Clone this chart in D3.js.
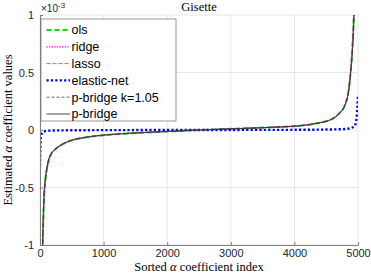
<!DOCTYPE html>
<html>
<head>
<meta charset="utf-8">
<script src="https://cdn.jsdelivr.net/npm/d3@7"></script>
<style>
body { margin: 0; background: #fff; }
svg { display: block; }
</style>
</head>
<body>
<div id="canvas"></div>
<script>
// ---------------- DATA ----------------
var title = "Gisette";
var xTicks = [0, 1000, 2000, 3000, 4000, 5000];
var yTicks = [-1, -0.5, 0, 0.5, 1];
var yTickLabels = ["-1", "-0.5", "0", "0.5", "1"];

// sorted coefficient index
var idx = [0, 10, 20, 30, 40, 50, 63, 80, 100, 130, 170, 220, 288, 380, 500, 700, 970, 1300, 1700, 2100, 2500,
  2900, 3300, 3700, 4088, 4350, 4500, 4607, 4700, 4795, 4850, 4885, 4910, 4937, 4960, 4980, 5000];

// values in units of 1e-3
var ols = [-6, -3.6, -2.5, -1.7, -1.12, -0.82, -0.6, -0.46, -0.37, -0.28, -0.215, -0.178, -0.147, -0.117, -0.09, -0.066, -0.047, -0.033, -0.021, -0.011, 0,
  0.008, 0.016, 0.025, 0.037, 0.058, 0.076, 0.1, 0.142, 0.22, 0.335, 0.51, 0.7, 1.04, 1.55, 2.6, 4];
var ridge = [-6.3, -3.8, -2.6, -1.8, -1.2, -0.88, -0.63, -0.48, -0.38, -0.29, -0.22, -0.18, -0.149, -0.118, -0.091, -0.067, -0.047, -0.033, -0.021, -0.011, 0,
  0.008, 0.016, 0.025, 0.037, 0.059, 0.077, 0.102, 0.145, 0.225, 0.345, 0.53, 0.73, 1.08, 1.6, 2.7, 4.2];
var lasso = [-5.8, -3.5, -2.4, -1.65, -1.08, -0.79, -0.58, -0.45, -0.36, -0.27, -0.212, -0.176, -0.145, -0.116, -0.089, -0.065, -0.046, -0.032, -0.02, -0.01, 0,
  0.008, 0.016, 0.025, 0.037, 0.058, 0.075, 0.1, 0.14, 0.217, 0.33, 0.5, 0.68, 1.0, 1.5, 2.5, 3.9];
var enet = [-0.31, -0.09, -0.045, -0.03, -0.022, -0.017, -0.013, -0.01, -0.008, -0.006, -0.005, -0.004, -0.003, -0.003, -0.002, -0.002, -0.001, -0.001, 0, 0, 0,
  0, 0.001, 0.001, 0.002, 0.003, 0.004, 0.005, 0.006, 0.009, 0.012, 0.016, 0.022, 0.03, 0.05, 0.12, 0.3];
var pbk = [-5.8, -3.5, -2.4, -1.65, -1.08, -0.79, -0.58, -0.45, -0.36, -0.27, -0.212, -0.176, -0.145, -0.116, -0.089, -0.065, -0.046, -0.032, -0.02, -0.01, 0,
  0.008, 0.016, 0.025, 0.037, 0.058, 0.075, 0.1, 0.14, 0.217, 0.33, 0.5, 0.68, 1.0, 1.5, 2.5, 3.9];
var pb = [-5.7, -3.4, -2.35, -1.62, -1.05, -0.77, -0.57, -0.44, -0.355, -0.268, -0.21, -0.175, -0.144, -0.115, -0.088, -0.065, -0.046, -0.032, -0.02, -0.01, 0,
  0.008, 0.016, 0.025, 0.037, 0.058, 0.075, 0.099, 0.139, 0.215, 0.327, 0.495, 0.67, 0.99, 1.48, 2.45, 3.8];

var seriesNames = ["ols", "ridge", "lasso", "elastic-net", "p-bridge k=1.05", "p-bridge"];
var seriesValues = [ols, ridge, lasso, enet, pbk, pb];

// ---------------- STYLE ----------------
var styles = [
  { color: "#00e000", width: 2, dash: "5,3" },
  { color: "#ff00ff", width: 1.3, dash: "1.3,1.3" },
  { color: "#ff3030", width: 0.8, dash: "4,2" },
  { color: "#0000ff", width: 2.4, dash: "2.2,2.2" },
  { color: "#555555", width: 0.9, dash: "3,2" },
  { color: "#333333", width: 0.9, dash: null }
];

var W = 371, H = 273;
var margin = { left: 40, right: 13, top: 15, bottom: 28 };
var width = W - margin.left - margin.right;
var height = H - margin.top - margin.bottom;

var svg = d3.select("#canvas").append("svg")
  .attr("width", W)
  .attr("height", H);

var g = svg.append("g")
  .attr("transform", `translate(${margin.left}, ${margin.top})`);

var xScale = d3.scaleLinear().domain([0, 5000]).range([0, width]);
var yScale = d3.scaleLinear().domain([-1, 1]).range([height, 0]);

// grid
g.append("g")
  .selectAll("line.gx")
  .data(xTicks)
  .enter().append("line")
  .attr("x1", d => xScale(d)).attr("x2", d => xScale(d))
  .attr("y1", 0).attr("y2", height)
  .attr("stroke", "#e6e6e6").attr("stroke-width", 1);
g.append("g")
  .selectAll("line.gy")
  .data(yTicks)
  .enter().append("line")
  .attr("x1", 0).attr("x2", width)
  .attr("y1", d => yScale(d)).attr("y2", d => yScale(d))
  .attr("stroke", "#e6e6e6").attr("stroke-width", 1);

// clip
svg.append("defs").append("clipPath").attr("id", "clip")
  .append("rect").attr("x", 0).attr("y", 0).attr("width", width).attr("height", height);

// lines
var line = d3.line()
  .x((d, i) => xScale(idx[i]))
  .y(d => yScale(d))
  .curve(d3.curveMonotoneX);

var lines = g.append("g").attr("clip-path", "url(#clip)");
seriesValues.forEach(function (vals, k) {
  lines.append("path")
    .attr("d", line(vals))
    .attr("fill", "none")
    .attr("stroke", styles[k].color)
    .attr("stroke-width", styles[k].width)
    .attr("stroke-dasharray", styles[k].dash);
});

// axes
var axisColor = "#808080";
var xAxis = g.append("g")
  .attr("transform", `translate(0, ${height})`)
  .call(d3.axisBottom(xScale).tickValues(xTicks).tickFormat(d3.format("d")).tickSizeInner(-3).tickSizeOuter(0).tickPadding(4));
var yAxis = g.append("g")
  .call(d3.axisLeft(yScale).tickValues(yTicks).tickFormat((d, i) => yTickLabels[i]).tickSizeInner(-3).tickSizeOuter(0).tickPadding(6));
[xAxis, yAxis].forEach(function (a) {
  a.select(".domain").attr("stroke", axisColor);
  a.selectAll(".tick line").attr("stroke", axisColor);
  a.selectAll(".tick text")
    .attr("fill", "#262626")
    .style("font-family", "'Liberation Sans', Arial, sans-serif")
    .style("font-size", "11px");
});

// exponent label
var expo = svg.append("text")
  .attr("x", margin.left + 1)
  .attr("y", 12)
  .attr("fill", "#262626")
  .style("font-family", "'Liberation Sans', Arial, sans-serif")
  .style("font-size", "10px");
expo.append("tspan").text("\u00d710");
expo.append("tspan").attr("dy", -4).style("font-size", "8px").text("-3");

// title
var serifSize = "12.5px";
svg.append("text")
  .attr("x", margin.left + width / 2)
  .attr("y", 11)
  .attr("text-anchor", "middle")
  .style("font-family", "'Liberation Serif', serif")
  .style("font-size", serifSize)
  .text(title);

// x label
var xl = svg.append("text")
  .attr("x", margin.left + width / 2)
  .attr("y", 270.5)
  .attr("text-anchor", "middle")
  .style("font-family", "'Liberation Serif', serif")
  .style("font-size", serifSize);
xl.append("tspan").text("Sorted ");
xl.append("tspan").style("font-style", "italic").text("\u03b1");
xl.append("tspan").text(" coefficient index");

// y label
var yl = svg.append("text")
  .attr("transform", `translate(11.5, ${margin.top + height / 2}) rotate(-90)`)
  .attr("text-anchor", "middle")
  .style("font-family", "'Liberation Serif', serif")
  .style("font-size", serifSize);
yl.append("tspan").text("Estimated ");
yl.append("tspan").style("font-style", "italic").text("\u03b1");
yl.append("tspan").text(" coefficient values");

// legend
var lg = svg.append("g").attr("transform", "translate(41, 19)");
lg.append("rect")
  .attr("x", 0).attr("y", 0)
  .attr("width", 135).attr("height", 102)
  .attr("fill", "#fff")
  .attr("stroke", "#7f7f7f")
  .attr("stroke-width", 0.8);
seriesNames.forEach(function (name, k) {
  var yy = 11 + k * 16.8;
  lg.append("line")
    .attr("x1", 5.5).attr("x2", 29)
    .attr("y1", yy).attr("y2", yy)
    .attr("stroke", styles[k].color)
    .attr("stroke-width", styles[k].width)
    .attr("stroke-dasharray", styles[k].dash);
  lg.append("text")
    .attr("x", 30.5)
    .attr("y", yy + 4.3)
    .attr("fill", "#000")
    .style("font-family", "'Liberation Sans', Arial, sans-serif")
    .style("font-size", "12.5px")
    .text(name);
});
</script>
</body>
</html>
